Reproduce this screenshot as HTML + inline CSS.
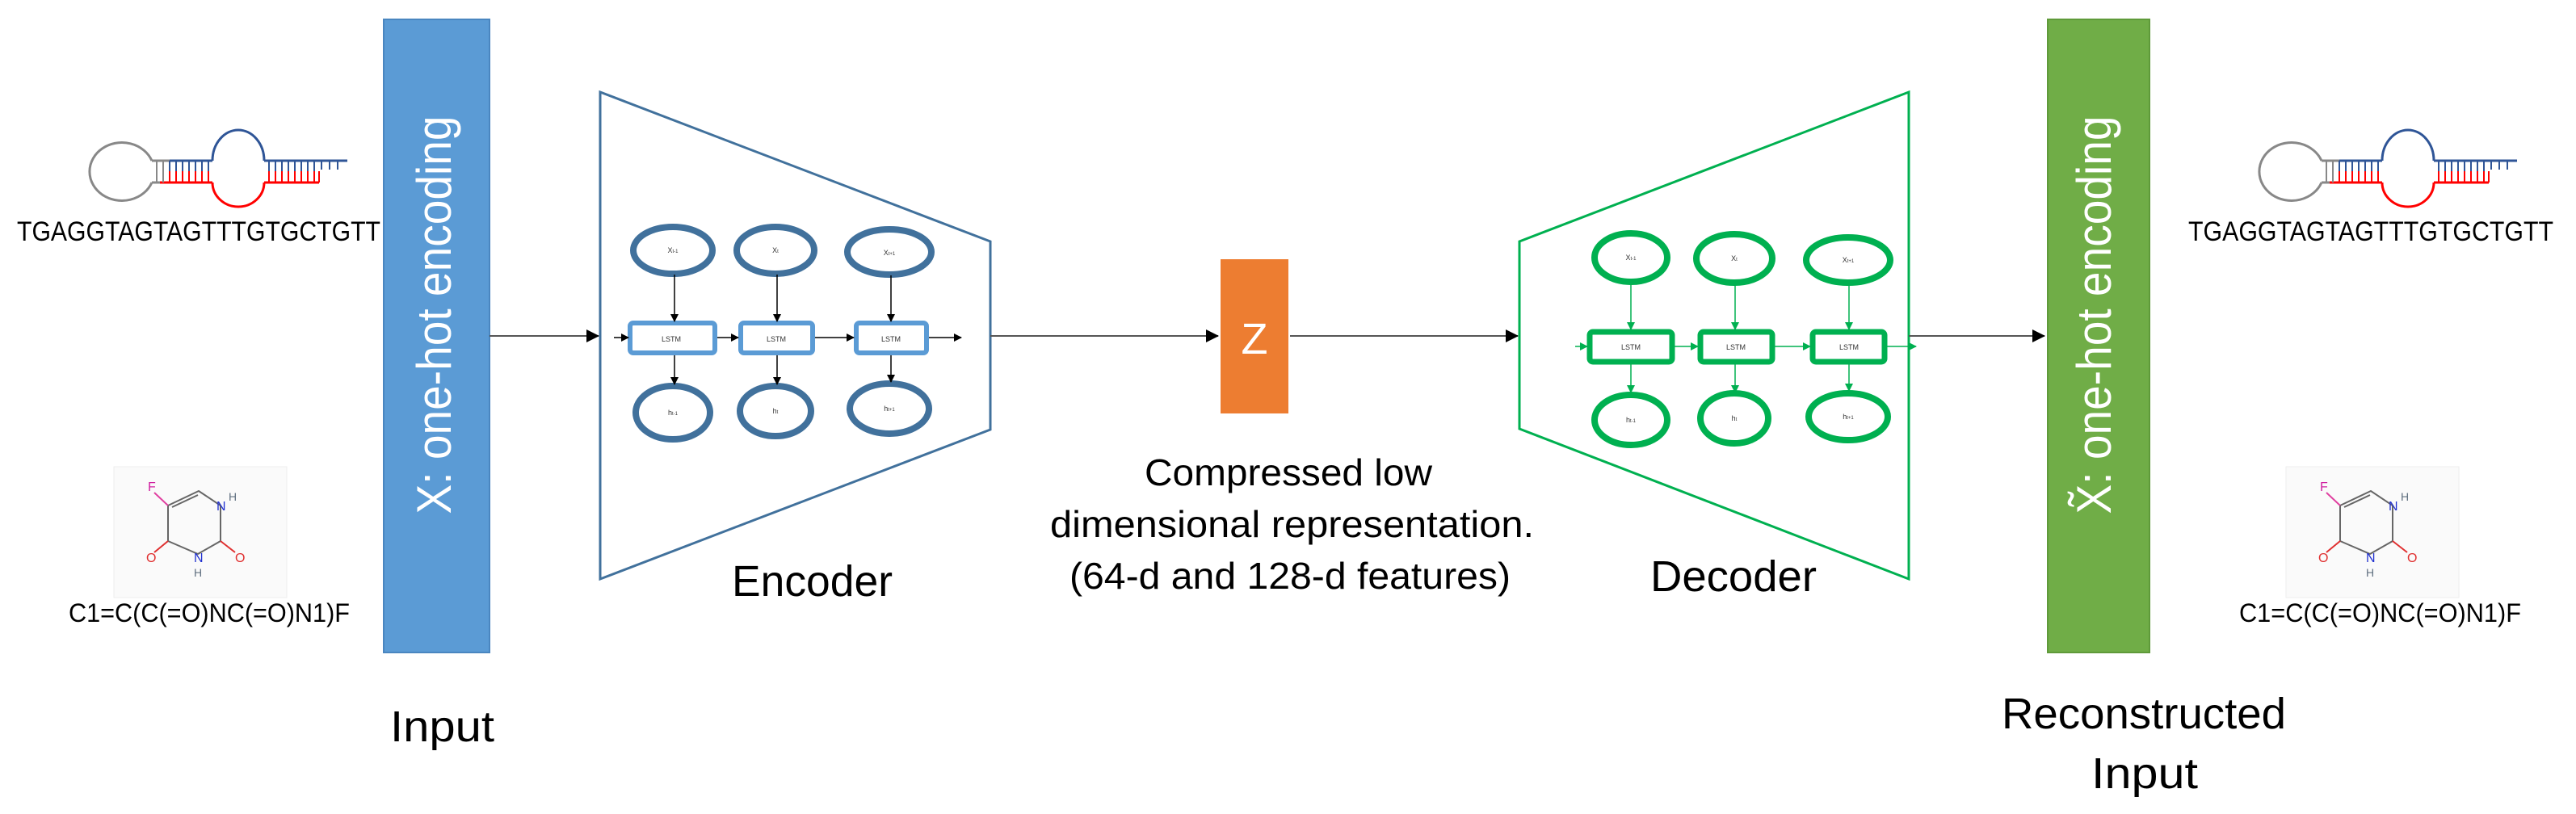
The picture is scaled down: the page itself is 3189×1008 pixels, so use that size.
<!DOCTYPE html>
<html><head><meta charset="utf-8"><style>
html,body{margin:0;padding:0;background:#fff;}
svg{display:block;}
text{font-family:"Liberation Sans Narrow","Liberation Sans",sans-serif;}
</style></head><body>
<svg width="3189" height="1008" viewBox="0 0 3189 1008" xmlns="http://www.w3.org/2000/svg">
<defs>
  <marker id="ak" markerWidth="10" markerHeight="10" refX="9" refY="5" orient="auto" markerUnits="userSpaceOnUse">
    <path d="M0,0 L10,5 L0,10 z" fill="#000"/>
  </marker>
  <marker id="ag" markerWidth="10" markerHeight="10" refX="9" refY="5" orient="auto" markerUnits="userSpaceOnUse">
    <path d="M0,0 L10,5 L0,10 z" fill="#00b050"/>
  </marker>
  <marker id="big" markerWidth="16" markerHeight="16" refX="15" refY="8" orient="auto" markerUnits="userSpaceOnUse">
    <path d="M0,0 L16,8 L0,16 z" fill="#000"/>
  </marker>
  <g id="rna">
    <path d="M188,199 A40,36 0 1 0 188,226" fill="none" stroke="#888" stroke-width="3"/>
    <line x1="188" y1="199" x2="210" y2="199" stroke="#888" stroke-width="3"/>
    <line x1="188" y1="226" x2="198" y2="226" stroke="#888" stroke-width="3"/>
    <line x1="210" y1="199" x2="263" y2="199" stroke="#2f5597" stroke-width="3"/>
    <line x1="198" y1="226" x2="263" y2="226" stroke="#ff0000" stroke-width="3"/>
    <path d="M194,199V226M202,199V226" stroke="#888" stroke-width="2"/>
    <path d="M210,199V212M218,199V212M226,199V212M234,199V212M242,199V212M250,199V212M258,199V212" stroke="#2f5597" stroke-width="2"/>
    <path d="M210,212V226M218,212V226M226,212V226M234,212V226M242,212V226M250,212V226M258,212V226" stroke="#ff0000" stroke-width="2"/>
    <path d="M263,199 A32,38 0 0 1 327,199" fill="none" stroke="#2f5597" stroke-width="3"/>
    <path d="M263,226 A32,30 0 0 0 327,226" fill="none" stroke="#ff0000" stroke-width="3"/>
    <line x1="327" y1="199" x2="430" y2="199" stroke="#2f5597" stroke-width="3"/>
    <line x1="327" y1="226" x2="395" y2="226" stroke="#ff0000" stroke-width="3"/>
    <path d="M333,199V212M341,199V212M349,199V212M357,199V212M365,199V212M373,199V212M381,199V212M389,199V212M398,199V210M408,199V210M418,199V210" stroke="#2f5597" stroke-width="2"/>
    <path d="M333,212V226M341,212V226M349,212V226M357,212V226M365,212V226M373,212V226M381,212V226M389,212V226M395,212V226" stroke="#ff0000" stroke-width="2"/>
  </g>
  <g id="mol">
    <rect x="0" y="0" width="214" height="162" fill="#fafafa" stroke="#eee"/>
    <path d="M67,48 L105,30 L132,48 L132,92 L104,108 L67,92 Z" fill="none" stroke="#666" stroke-width="2"/>
    <path d="M72,50 L104,35" stroke="#666" stroke-width="2"/>
    <path d="M67,48 L50,32" stroke="#e040a0" stroke-width="2"/>
    <path d="M67,92 L50,106" stroke="#e03030" stroke-width="2"/>
    <path d="M132,92 L150,106" stroke="#e03030" stroke-width="2"/>
    <text x="42" y="30" font-size="16" fill="#d020a0">F</text>
    <text x="127" y="54" font-size="16" fill="#2030d0">N</text>
    <text x="142" y="42" font-size="14" fill="#607080">H</text>
    <text x="99" y="118" font-size="16" fill="#2030d0">N</text>
    <text x="99" y="136" font-size="14" fill="#607080">H</text>
    <text x="40" y="118" font-size="16" fill="#e03030">O</text>
    <text x="150" y="118" font-size="16" fill="#e03030">O</text>
  </g>
</defs>

<!-- Left input -->
<use href="#rna"/>
<text x="21" y="298" font-size="34" textLength="450" lengthAdjust="spacingAndGlyphs">TGAGGTAGTAGTTTGTGCTGTT</text>
<use href="#mol" x="141" y="578"/>
<text x="85" y="770" font-size="32" textLength="348" lengthAdjust="spacingAndGlyphs">C1=C(C(=O)NC(=O)N1)F</text>

<rect x="475" y="24" width="131" height="784" fill="#5b9bd5" stroke="#4a86c0" stroke-width="2"/>
<text transform="translate(558,390) rotate(-90)" text-anchor="middle" font-size="60" fill="#fff" textLength="493" lengthAdjust="spacingAndGlyphs" style="font-family:'Liberation Sans',sans-serif">X: one-hot encoding</text>
<text x="483" y="918" font-size="54" textLength="129" lengthAdjust="spacingAndGlyphs">Input</text>

<!-- Encoder -->
<line x1="606" y1="416" x2="741" y2="416" stroke="#555" stroke-width="2" marker-end="url(#big)"/>
<polygon points="743,114 1226,299 1226,532 743,717" fill="none" stroke="#41719c" stroke-width="3"/>
<g fill="#fff" stroke="#41719c" stroke-width="8">
  <ellipse cx="833" cy="310" rx="49" ry="29"/>
  <ellipse cx="960" cy="310" rx="48" ry="29"/>
  <ellipse cx="1101" cy="312" rx="52" ry="28"/>
  <ellipse cx="833" cy="511" rx="46" ry="33"/>
  <ellipse cx="960" cy="509" rx="44" ry="31"/>
  <ellipse cx="1101" cy="506" rx="49" ry="31"/>
</g>
<g fill="#fff" stroke="#5b9bd5" stroke-width="6">
  <rect x="780" y="400" width="105" height="37" rx="4"/>
  <rect x="917" y="400" width="89" height="37" rx="4"/>
  <rect x="1060" y="400" width="87" height="37" rx="4"/>
</g>
<g font-size="9" text-anchor="middle" fill="#333">
  <text x="831" y="423">LSTM</text><text x="961" y="423">LSTM</text><text x="1103" y="423">LSTM</text>
  <text x="833" y="313">X<tspan font-size="6">t-1</tspan></text><text x="960" y="313">X<tspan font-size="6">t</tspan></text><text x="1101" y="316">X<tspan font-size="6">t+1</tspan></text>
  <text x="833" y="514">h<tspan font-size="6">t-1</tspan></text><text x="960" y="512">h<tspan font-size="6">t</tspan></text><text x="1101" y="509">h<tspan font-size="6">t+1</tspan></text>
</g>
<g stroke="#000" stroke-width="1.5" marker-end="url(#ak)">
  <line x1="835" y1="340" x2="835" y2="398"/>
  <line x1="962" y1="340" x2="962" y2="398"/>
  <line x1="1103" y1="341" x2="1103" y2="398"/>
  <line x1="835" y1="440" x2="835" y2="476"/>
  <line x1="962" y1="440" x2="962" y2="476"/>
  <line x1="1103" y1="440" x2="1103" y2="473"/>
  <line x1="760" y1="418" x2="778" y2="418"/>
  <line x1="888" y1="418" x2="914" y2="418"/>
  <line x1="1009" y1="418" x2="1057" y2="418"/>
  <line x1="1150" y1="418" x2="1190" y2="418"/>
</g>
<text x="906" y="738" font-size="54" textLength="199" lengthAdjust="spacingAndGlyphs">Encoder</text>

<!-- Z -->
<line x1="1226" y1="416" x2="1508" y2="416" stroke="#555" stroke-width="2" marker-end="url(#big)"/>
<rect x="1511" y="321" width="84" height="191" fill="#ed7d31"/>
<text x="1553" y="438" text-anchor="middle" font-size="54" fill="#fff">Z</text>
<g font-size="46">
  <text x="1417" y="601" textLength="356" lengthAdjust="spacingAndGlyphs">Compressed low</text>
  <text x="1300" y="665" textLength="599" lengthAdjust="spacingAndGlyphs">dimensional representation.</text>
  <text x="1324" y="729" textLength="546" lengthAdjust="spacingAndGlyphs">(64-d and 128-d features)</text>
</g>

<!-- Decoder -->
<line x1="1597" y1="416" x2="1879" y2="416" stroke="#555" stroke-width="2" marker-end="url(#big)"/>
<polygon points="1881,299 2363,114 2363,717 1881,531" fill="none" stroke="#00b050" stroke-width="3"/>
<g fill="#fff" stroke="#00b050" stroke-width="8">
  <ellipse cx="2019" cy="319" rx="45" ry="30"/>
  <ellipse cx="2147" cy="320" rx="47" ry="30"/>
  <ellipse cx="2288" cy="322" rx="52" ry="28"/>
  <ellipse cx="2019" cy="520" rx="45" ry="31"/>
  <ellipse cx="2147" cy="518" rx="42" ry="31"/>
  <ellipse cx="2288" cy="516" rx="49" ry="29"/>
</g>
<g fill="#fff" stroke="#00b050" stroke-width="7">
  <rect x="1968" y="411" width="102" height="37" rx="4"/>
  <rect x="2105" y="411" width="89" height="37" rx="4"/>
  <rect x="2244" y="411" width="89" height="37" rx="4"/>
</g>
<g font-size="9" text-anchor="middle" fill="#333">
  <text x="2019" y="433">LSTM</text><text x="2149" y="433">LSTM</text><text x="2289" y="433">LSTM</text>
  <text x="2019" y="322">X<tspan font-size="6">t-1</tspan></text><text x="2147" y="323">X<tspan font-size="6">t</tspan></text><text x="2288" y="325">X<tspan font-size="6">t+1</tspan></text>
  <text x="2019" y="523">h<tspan font-size="6">t-1</tspan></text><text x="2147" y="521">h<tspan font-size="6">t</tspan></text><text x="2288" y="519">h<tspan font-size="6">t+1</tspan></text>
</g>
<g stroke="#00b050" stroke-width="1.5" marker-end="url(#ag)">
  <line x1="2019" y1="352" x2="2019" y2="408"/>
  <line x1="2148" y1="352" x2="2148" y2="408"/>
  <line x1="2289" y1="352" x2="2289" y2="408"/>
  <line x1="2019" y1="451" x2="2019" y2="486"/>
  <line x1="2148" y1="451" x2="2148" y2="486"/>
  <line x1="2289" y1="451" x2="2289" y2="484"/>
  <line x1="1950" y1="429" x2="1965" y2="429"/>
  <line x1="2073" y1="429" x2="2102" y2="429"/>
  <line x1="2197" y1="429" x2="2241" y2="429"/>
  <line x1="2336" y1="429" x2="2372" y2="429"/>
</g>
<text x="2043" y="732" font-size="54" textLength="206" lengthAdjust="spacingAndGlyphs">Decoder</text>

<!-- Output -->
<line x1="2363" y1="416" x2="2531" y2="416" stroke="#555" stroke-width="2" marker-end="url(#big)"/>
<rect x="2535" y="24" width="126" height="784" fill="#70ad47" stroke="#5f9a3a" stroke-width="2"/>
<text transform="translate(2613,390) rotate(-90)" text-anchor="middle" font-size="60" fill="#fff" textLength="493" lengthAdjust="spacingAndGlyphs" style="font-family:'Liberation Sans',sans-serif">X̃: one-hot encoding</text>
<text x="2478" y="902" font-size="54" textLength="352" lengthAdjust="spacingAndGlyphs">Reconstructed</text>
<text x="2589" y="976" font-size="54" textLength="132" lengthAdjust="spacingAndGlyphs">Input</text>

<use href="#rna" x="2686" y="0"/>
<text x="2709" y="298" font-size="34" textLength="452" lengthAdjust="spacingAndGlyphs">TGAGGTAGTAGTTTGTGCTGTT</text>
<use href="#mol" x="2830" y="578"/>
<text x="2772" y="770" font-size="32" textLength="349" lengthAdjust="spacingAndGlyphs">C1=C(C(=O)NC(=O)N1)F</text>
</svg>
</body></html>
